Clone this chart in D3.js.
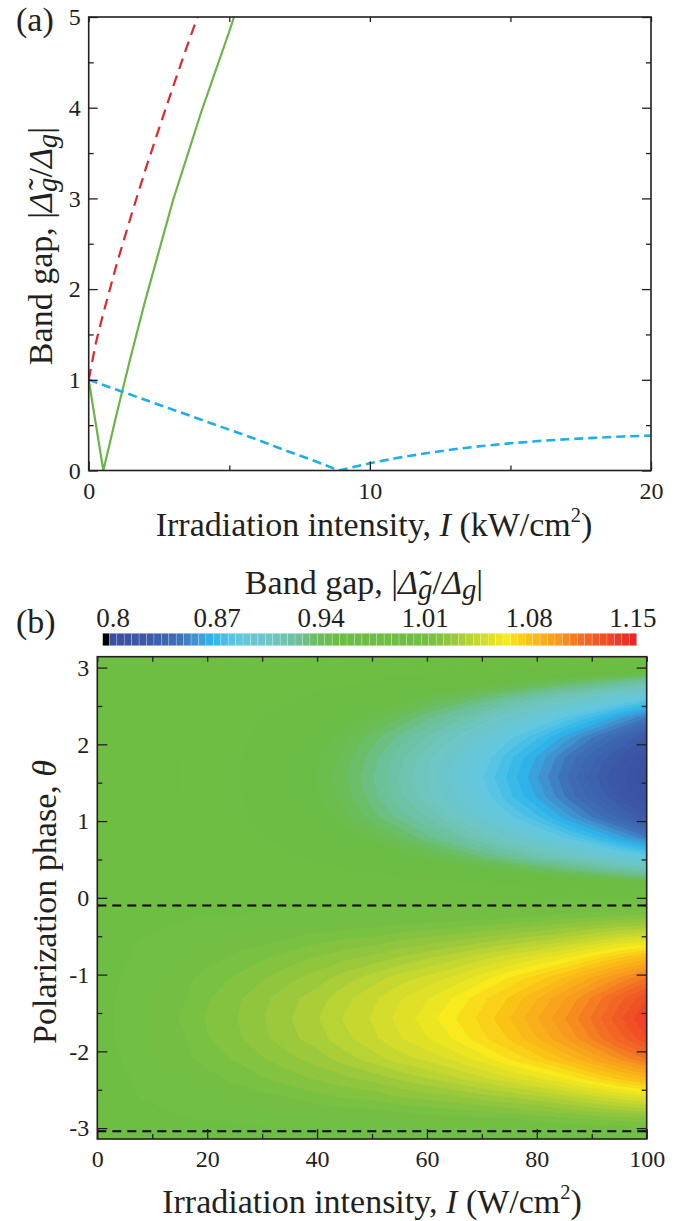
<!DOCTYPE html>
<meta charset="utf-8">
<style>
  body { margin: 0; background: #fff; }
  text { font-family: "Liberation Serif", "Times New Roman", serif; fill: #231f20; }
  .tick line { stroke: #231f20; stroke-width: 1.3px; }
  .tick text { font-size: 24px; }
  .frame { fill: none; stroke: #231f20; stroke-width: 1.6px; }
  .lab { font-size: 34px; }
</style>
<body>
<script src="https://d3js.org/d3.v7.min.js"></script>
<script>
  // ---------- panel (a) data: band gap vs intensity (kW/cm^2)
  var redI = [0, 0.25, 0.5, 1, 1.5, 2, 2.5, 3, 3.5, 3.87];
  var redGap = [1, 1.40, 1.71, 2.28, 2.80, 3.30, 3.77, 4.23, 4.68, 5.0];

  var greenI = [0, 0.52, 0.75, 1, 1.5, 2, 3, 4, 5, 5.17];
  var greenGap = [1, 0, 0.30, 0.63, 1.26, 1.86, 2.98, 3.95, 4.84, 5.0];

  var blueI = [0, 1, 2, 3, 4, 5, 6, 7, 8, 8.9, 10, 11, 12, 13, 14, 15, 16, 17, 18, 19, 20];
  var blueGap = [1, 0.89, 0.78, 0.67, 0.56, 0.45, 0.34, 0.22, 0.11, 0, 0.08, 0.14, 0.19, 0.235, 0.27, 0.30, 0.325, 0.345, 0.36, 0.375, 0.385];

  var xTicksA = [0, 10, 20];
  var yTicksA = [0, 1, 2, 3, 4, 5];

  // ---------- panel (b) data: band gap map vs intensity (W/cm^2) and phase
  var intensity = [0, 5, 10, 15, 20, 25, 30, 35, 40, 45, 50, 55, 60, 65, 70, 75, 80, 85, 90, 95, 100];
  var theta = [-3.1416, -2.8798, -2.618, -2.3562, -2.0944, -1.8326, -1.5708, -1.309, -1.0472, -0.7854,
    -0.5236, -0.2618, 0, 0.2618, 0.5236, 0.7854, 1.0472, 1.309, 1.5708, 1.8326, 2.0944, 2.3562, 2.618, 2.8798, 3.1416];
  // one row per theta value, one column per intensity value
  var gapGrid = [
    [1.000,1.000,1.000,1.000,1.000,1.000,1.000,1.000,1.000,1.000,1.000,1.000,1.000,1.000,1.000,1.000,1.000,1.000,1.000,1.000,1.000],
    [1.000,1.001,1.001,1.002,1.003,1.003,1.004,1.005,1.005,1.006,1.007,1.008,1.009,1.010,1.011,1.012,1.014,1.016,1.018,1.019,1.021],
    [1.000,1.002,1.003,1.005,1.006,1.008,1.010,1.012,1.015,1.017,1.018,1.021,1.023,1.025,1.028,1.031,1.034,1.038,1.043,1.048,1.052],
    [1.000,1.002,1.005,1.007,1.010,1.014,1.017,1.020,1.023,1.026,1.029,1.033,1.037,1.041,1.046,1.051,1.056,1.062,1.070,1.078,1.085],
    [1.000,1.003,1.007,1.010,1.015,1.018,1.022,1.026,1.030,1.035,1.040,1.045,1.049,1.054,1.060,1.068,1.075,1.083,1.093,1.103,1.113],
    [1.000,1.004,1.008,1.011,1.017,1.021,1.026,1.031,1.035,1.041,1.046,1.052,1.057,1.063,1.071,1.078,1.087,1.097,1.108,1.120,1.132],
    [1.000,1.004,1.008,1.013,1.018,1.022,1.027,1.032,1.037,1.043,1.048,1.054,1.060,1.067,1.074,1.082,1.092,1.102,1.113,1.126,1.138],
    [1.000,1.004,1.008,1.011,1.017,1.021,1.026,1.031,1.035,1.041,1.046,1.052,1.057,1.063,1.071,1.078,1.087,1.097,1.108,1.120,1.132],
    [1.000,1.003,1.007,1.010,1.015,1.018,1.022,1.026,1.030,1.035,1.040,1.045,1.049,1.054,1.060,1.068,1.075,1.083,1.093,1.103,1.113],
    [1.000,1.002,1.005,1.007,1.010,1.014,1.017,1.020,1.023,1.026,1.029,1.033,1.037,1.041,1.046,1.051,1.056,1.062,1.070,1.078,1.085],
    [1.000,1.002,1.003,1.005,1.006,1.008,1.010,1.012,1.015,1.017,1.018,1.021,1.023,1.025,1.028,1.031,1.034,1.038,1.043,1.048,1.052],
    [1.000,1.001,1.001,1.002,1.003,1.003,1.004,1.005,1.005,1.006,1.007,1.008,1.009,1.010,1.011,1.012,1.014,1.016,1.018,1.019,1.021],
    [1.000,1.000,1.000,1.000,1.000,1.000,1.000,1.000,1.000,1.000,1.000,1.000,1.000,1.000,1.000,1.000,1.000,1.000,1.000,1.000,1.000],
    [1.000,0.999,0.998,0.996,0.994,0.992,0.988,0.985,0.982,0.979,0.976,0.972,0.968,0.964,0.961,0.957,0.952,0.947,0.943,0.938,0.932],
    [1.000,0.998,0.996,0.993,0.989,0.985,0.980,0.975,0.969,0.964,0.959,0.952,0.946,0.940,0.933,0.926,0.918,0.911,0.903,0.894,0.886],
    [1.000,0.998,0.995,0.990,0.985,0.980,0.973,0.967,0.960,0.952,0.945,0.938,0.929,0.921,0.912,0.902,0.892,0.882,0.872,0.860,0.848],
    [1.000,0.997,0.994,0.988,0.983,0.977,0.969,0.961,0.952,0.944,0.935,0.926,0.917,0.907,0.896,0.884,0.874,0.861,0.848,0.836,0.822],
    [1.000,0.997,0.993,0.987,0.981,0.975,0.966,0.958,0.948,0.940,0.930,0.919,0.909,0.898,0.887,0.874,0.862,0.848,0.835,0.821,0.806],
    [1.000,0.997,0.993,0.987,0.981,0.974,0.965,0.957,0.947,0.938,0.928,0.917,0.907,0.895,0.883,0.871,0.858,0.844,0.830,0.816,0.801],
    [1.000,0.997,0.993,0.987,0.981,0.975,0.966,0.958,0.948,0.940,0.930,0.919,0.909,0.898,0.887,0.874,0.862,0.848,0.835,0.821,0.806],
    [1.000,0.997,0.994,0.988,0.983,0.977,0.969,0.961,0.952,0.944,0.935,0.926,0.917,0.907,0.896,0.884,0.874,0.861,0.848,0.836,0.822],
    [1.000,0.998,0.995,0.990,0.985,0.980,0.973,0.967,0.960,0.952,0.945,0.938,0.929,0.921,0.912,0.902,0.892,0.882,0.872,0.860,0.848],
    [1.000,0.998,0.996,0.993,0.989,0.985,0.980,0.975,0.969,0.964,0.959,0.952,0.946,0.940,0.933,0.926,0.918,0.911,0.903,0.894,0.886],
    [1.000,0.999,0.998,0.996,0.994,0.992,0.988,0.985,0.982,0.979,0.976,0.972,0.968,0.964,0.961,0.957,0.952,0.947,0.943,0.938,0.932],
    [1.000,1.000,1.000,1.000,1.000,1.000,1.000,1.000,1.000,1.000,1.000,1.000,1.000,1.000,1.000,1.000,1.000,1.000,1.000,1.000,1.000]
  ];
  var dashTheta = [-0.1, -3.04];
  var xTicksB = [0, 20, 40, 60, 80, 100];
  var yTicksB = [-3, -2, -1, 0, 1, 2, 3];
  var cbTicks = [0.8, 0.87, 0.94, 1.01, 1.08, 1.15];

  // colour map of the contour plot
  var cmapStops = [0.7975, 0.82, 0.844, 0.858, 0.866, 0.883, 0.907, 0.924, 0.938, 0.95, 1.0, 1.014, 1.03, 1.05, 1.065, 1.08, 1.10, 1.115, 1.14, 1.1525];
  var cmapColors = ["#3a4ea1", "#3c57a7", "#3e6fb7", "#3f9bd7", "#2bb5ea", "#62c7e3", "#6fc6c2", "#6cc19c", "#6bbd5a", "#6cbd45",
    "#6fbe44", "#76c043", "#9cc93c", "#d4dc2c", "#f8ea1c", "#fbc316", "#f79a1e", "#f36f24", "#ef3b26", "#ed2024"];
  var cmap = d3.scaleLinear().domain(cmapStops).range(cmapColors).clamp(true);
  var step = 0.005, lowEdge = 0.793, firstLevel = 0.7975;
  var levels = d3.range(0, 71).map(function(i) { return firstLevel + i * step; });
  function bandColor(t) { return t < firstLevel - 1e-9 ? "#000" : cmap(t + step / 2); }

  var svg = d3.select("body").append("svg")
    .attr("width", 685)
    .attr("height", 1221);

  function inwardAxes(g, x, y, xMaj, xMin, yMaj, yMin, maj, min, fmtY) {
    var x0 = x.range()[0], x1 = x.range()[1], y0 = y.range()[0], y1 = y.range()[1];
    g.append("g").attr("transform", "translate(0," + y0 + ")")
      .call(d3.axisBottom(x).tickValues(xMaj).tickSize(-maj).tickPadding(11).tickFormat(d3.format("d")));
    g.append("g").attr("transform", "translate(0," + y0 + ")")
      .call(d3.axisBottom(x).tickValues(xMin).tickSize(-min).tickFormat(""));
    g.append("g").attr("transform", "translate(0," + y1 + ")")
      .call(d3.axisTop(x).tickValues(xMaj.concat(xMin)).tickSize(-min).tickFormat(""));
    g.append("g").attr("transform", "translate(" + x0 + ",0)")
      .call(d3.axisLeft(y).tickValues(yMaj).tickSize(-maj).tickPadding(8).tickFormat(fmtY));
    g.append("g").attr("transform", "translate(" + x0 + ",0)")
      .call(d3.axisLeft(y).tickValues(yMin).tickSize(-min).tickFormat(""));
    g.append("g").attr("transform", "translate(" + x1 + ",0)")
      .call(d3.axisRight(y).tickValues(yMaj).tickSize(-maj).tickFormat(""));
    g.append("g").attr("transform", "translate(" + x1 + ",0)")
      .call(d3.axisRight(y).tickValues(yMin).tickSize(-min).tickFormat(""));
    g.selectAll(".domain").remove();
    g.append("rect").attr("class", "frame")
      .attr("x", x0).attr("y", y1).attr("width", x1 - x0).attr("height", y0 - y1);
  }

  // |Delta-tilde_g / Delta_g|
  function gapLabel(t) {
    t.append("tspan").text("Band gap,  |");
    t.append("tspan").attr("font-style", "italic").text("\u0394\u0303");
    t.append("tspan").attr("font-style", "italic").attr("font-size", "0.85em").attr("dy", "0.18em").text("g");
    t.append("tspan").attr("dy", "-0.15em").text("/");
    t.append("tspan").attr("font-style", "italic").text("\u0394");
    t.append("tspan").attr("font-style", "italic").attr("font-size", "0.85em").attr("dy", "0.18em").text("g");
    t.append("tspan").attr("dy", "-0.15em").text("|");
  }

  function intensityLabel(t, unit) {
    t.append("tspan").text("Irradiation intensity, ");
    t.append("tspan").attr("font-style", "italic").text("I");
    t.append("tspan").text(" (" + unit + "/cm");
    t.append("tspan").attr("font-size", "0.6em").attr("dy", "-0.7em").text("2");
    t.append("tspan").attr("dy", "0.42em").text(")");
  }

  // ---------- panel (a)
  var xA = d3.scaleLinear().domain([0, 20]).range([88.7, 651]);
  var yA = d3.scaleLinear().domain([0, 5]).range([470.5, 17]);
  var gA = svg.append("g");

  gA.append("clipPath").attr("id", "clipA").append("rect")
    .attr("x", 88.7).attr("y", 17).attr("width", 651 - 88.7).attr("height", 470.5 - 17);

  var lineA = d3.line().x(function(d) { return xA(d[0]); }).y(function(d) { return yA(d[1]); });

  var curves = [
    { data: d3.zip(redI, redGap), color: "#e8232a", dash: "11,7", w: 2.2 },
    { data: d3.zip(greenI, greenGap), color: "#6ab545", dash: null, w: 2.2 },
    { data: d3.zip(blueI, blueGap), color: "#1eaee8", dash: "9,5", w: 2.6 }
  ];
  gA.selectAll("path.curve").data(curves).enter().append("path")
    .attr("class", "curve")
    .attr("clip-path", "url(#clipA)")
    .attr("d", function(d) { return lineA(d.data); })
    .attr("fill", "none")
    .attr("stroke", function(d) { return d.color; })
    .attr("stroke-width", function(d) { return d.w; })
    .attr("stroke-dasharray", function(d) { return d.dash; });

  inwardAxes(gA, xA, yA, xTicksA, [5, 15], yTicksA, [0.5, 1.5, 2.5, 3.5, 4.5], 9, 5, d3.format("d"));

  gA.append("text").attr("x", 16).attr("y", 31).style("font-size", "34px").text("(a)");
  intensityLabel(gA.append("text").attr("class", "lab").attr("x", 374).attr("y", 536).attr("text-anchor", "middle"), "kW");
  gapLabel(gA.append("text").attr("class", "lab").attr("text-anchor", "middle")
    .attr("transform", "translate(52,246) rotate(-90)"));

  // ---------- panel (b)
  var xB = d3.scaleLinear().domain([0, 100]).range([97.3, 646.7]);
  var yB = d3.scaleLinear().domain([-Math.PI, Math.PI]).range([1139, 656.7]);
  var gB = svg.append("g");

  gB.append("clipPath").attr("id", "clipB").append("rect")
    .attr("x", 97.3).attr("y", 656.7).attr("width", 646.7 - 97.3).attr("height", 1139 - 656.7);

  var nI = intensity.length, nT = theta.length;
  var flat = [];
  gapGrid.forEach(function(row) { row.forEach(function(v) { flat.push(v); }); });

  var xG = d3.scaleLinear().domain([0.5, nI - 0.5]).range([xB(intensity[0]), xB(intensity[nI - 1])]);
  var yG = d3.scaleLinear().domain([0.5, nT - 0.5]).range([yB(theta[0]), yB(theta[nT - 1])]);
  var gridPath = d3.geoPath(d3.geoTransform({
    point: function(px, py) { this.stream.point(xG(px), yG(py)); }
  }));

  var contours = d3.contours().size([nI, nT]).thresholds(levels)(flat);
  var map = gB.append("g").attr("clip-path", "url(#clipB)");
  map.append("rect").attr("x", 97.3).attr("y", 656.7).attr("width", 646.7 - 97.3).attr("height", 1139 - 656.7)
    .attr("fill", "#000");
  map.selectAll("path").data(contours).enter().append("path")
    .attr("d", gridPath)
    .attr("fill", function(d) { return bandColor(d.value); })
    .attr("stroke", function(d) { return bandColor(d.value); })
    .attr("stroke-width", 0.6);

  gB.selectAll("line.dash").data(dashTheta).enter().append("line")
    .attr("class", "dash")
    .attr("x1", xB(0)).attr("x2", xB(100))
    .attr("y1", function(d) { return yB(d); }).attr("y2", function(d) { return yB(d); })
    .attr("stroke", "#000").attr("stroke-width", 2).attr("stroke-dasharray", "9,6");

  inwardAxes(gB, xB, yB, xTicksB, [10, 30, 50, 70, 90], yTicksB, [-2.5, -1.5, -0.5, 0.5, 1.5, 2.5], 10, 5,
    function(d) { return String(d); });

  // colour bar
  var cb = d3.scaleLinear().domain([lowEdge, firstLevel + levels.length * step]).range([102.7, 636.7]);
  var cbCells = [lowEdge].concat(levels);
  gB.selectAll("rect.cell").data(cbCells).enter().append("rect")
    .attr("class", "cell")
    .attr("x", function(d) { return cb(d); })
    .attr("y", 633.3)
    .attr("width", function(d) { return d < firstLevel ? cb(firstLevel) - cb(lowEdge) : cb(d + step) - cb(d); })
    .attr("height", 12.4)
    .attr("fill", function(d) { return bandColor(d); })
    .attr("stroke", "#fff").attr("stroke-opacity", 0.35).attr("stroke-width", 0.6);

  gB.selectAll("text.cbt").data(cbTicks).enter().append("text")
    .attr("class", "cbt")
    .attr("x", function(d) { return cb(d); })
    .attr("y", 627)
    .attr("text-anchor", "middle")
    .style("font-size", "27px")
    .text(function(d) { return d; });

  gapLabel(gB.append("text").attr("class", "lab").attr("x", 364).attr("y", 594).attr("text-anchor", "middle"));

  gB.append("text").attr("x", 16).attr("y", 633).style("font-size", "34px").text("(b)");
  intensityLabel(gB.append("text").attr("class", "lab").attr("x", 372).attr("y", 1213).attr("text-anchor", "middle"), "W");

  var yl = gB.append("text").attr("class", "lab").attr("text-anchor", "middle")
    .attr("transform", "translate(56,902) rotate(-90)");
  yl.append("tspan").text("Polarization phase, ");
  yl.append("tspan").attr("font-style", "italic").text("\u03b8");
</script>
</body>
